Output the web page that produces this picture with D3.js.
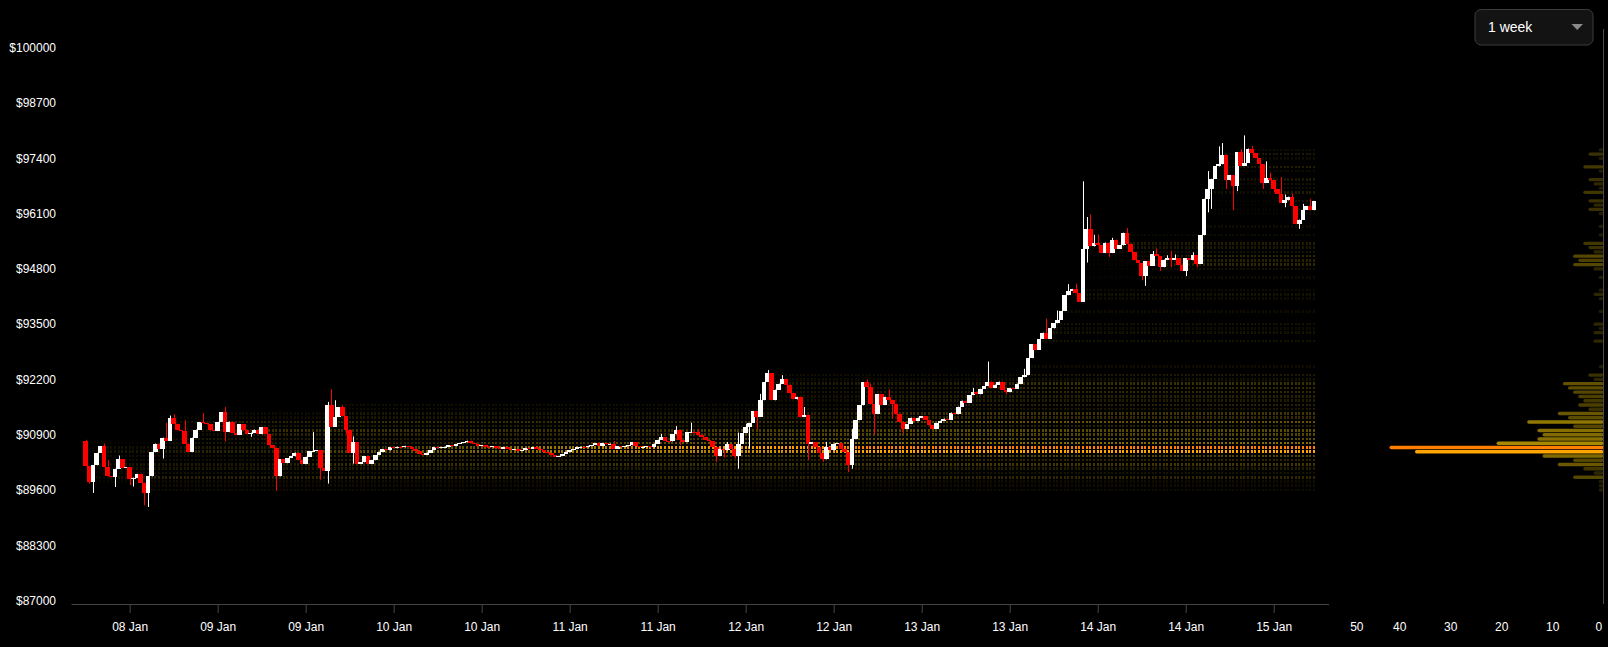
<!DOCTYPE html>
<html><head><meta charset="utf-8">
<script src="https://cdn.jsdelivr.net/npm/d3@7"></script>
<style>html,body{margin:0;padding:0;background:#000;overflow:hidden}svg{display:block}</style>
</head><body><svg id="chart" width="1608" height="647"></svg>
<script>
// ---------------- DATA ----------------
const startTime = Date.UTC(2025, 0, 8, 6, 0);   // first 30-min candle
const stepMinutes = 30;
const firstOpen = 90743;
const closes = [
90160,89790,90180,90470,90630,90140,89920,89900,90100,90320,90120,90130,
89850,89890,89980,89770,89530,89920,90490,90690,90560,90830,90750,91290,
91160,91000,90990,90690,90490,90830,91020,91200,91170,91140,91000,90990,
91200,91430,90960,91210,90950,90900,91140,91000,90920,90950,91020,90910,
91070,90920,90650,90590,89920,90320,90230,90350,90390,90480,90310,90220,
90380,90510,90520,90530,90120,90050,91610,91080,91320,91550,91330,91020,
90470,90720,90220,90250,90390,90220,90300,90420,90500,90560,90530,90600,
90580,90620,90600,90640,90610,90560,90520,90450,90420,90480,90540,90600,
90580,90600,90620,90650,90630,90680,90700,90720,90760,90700,90680,90640,
90660,90620,90600,90630,90580,90560,90600,90560,90540,90560,90520,90540,
90580,90560,90600,90570,90540,90500,90460,90420,90380,90400,90450,90500,
90540,90560,90600,90620,90600,90640,90660,90700,90630,90700,90670,90690,
90570,90630,90610,90640,90650,90730,90630,90610,90620,90630,90600,90690,
90780,90850,90750,90740,90910,91020,90770,90730,90960,90970,90960,90900,
90850,90780,90740,90610,90410,90570,90530,90670,90570,90410,90690,90940,
91080,91180,91450,91320,91710,92140,92350,91710,91960,92100,92200,92080,
91870,91730,91790,91320,91370,90690,90730,90610,90470,90320,90610,90530,
90690,90700,90570,90490,90180,90800,91240,91590,92140,92020,91630,91390,
91860,91610,91790,91720,91630,91390,91200,91035,91150,91300,91220,91300,
91340,91250,91120,91040,91180,91230,91280,91250,91420,91380,91560,91700,
91650,91830,91900,91850,91980,92040,92150,92000,92080,92150,91950,91900,
92000,91980,92100,92250,92300,92700,93030,92900,93150,93300,93150,93400,
93520,93600,93810,94180,94280,94330,94230,94020,95270,95730,95330,95410,
95350,95170,95420,95170,95490,95270,95350,95650,95390,95200,95000,94940,
94630,94980,94870,95160,95100,94840,95020,95050,95020,95050,94900,94750,
95050,95020,95130,94920,95590,96450,96690,96920,97210,97260,97490,96880,
97010,96750,97550,97220,97300,97630,97530,97410,97270,96820,96940,96880,
96670,96570,96350,96410,96500,96270,95850,95960,96190,96270,96180,96390
];
// [candle index, wick high]
const wickHighs = [[0,90780],[5,90690],[6,90300],[9,90410],[22,91180],[23,91350],[24,91380],[27,91240],
[32,91410],[38,91550],[62,90960],[66,91670],[67,91970],[68,91710],[70,91590],[73,90860],[144,90750],
[157,90920],[161,91100],[165,91180],[167,91030],[175,90730],[178,90950],[180,91160],[184,91860],
[186,92420],[190,92300],[196,91550],[202,90730],[209,91040],[213,92200],[214,92100],[219,91960],
[242,92000],[246,92620],[256,92450],[262,93630],[265,93820],[268,94440],[270,94450],[272,96860],
[273,96020],[274,96080],[275,95600],[276,95610],[280,95530],[284,95760],[291,95220],[292,95280],
[295,95120],[296,95230],[297,95140],[302,95190],[306,97100],[309,97680],[310,97760],[315,97610],
[316,97940],[318,97690],[322,97330],[323,97060],[326,96960],[327,96550],[329,96570],[332,96330],[334,96450]];
// [candle index, wick low]
const wickLows = [[1,89750],[2,89530],[8,89670],[12,89710],[13,89680],[16,89240],[17,89200],[21,90340],
[38,90740],[45,90850],[52,89580],[64,89840],[66,89750],[71,90920],[73,90220],[162,90650],[172,90260],
[174,90360],[177,90340],[178,90100],[181,90570],[183,91020],[197,90300],[201,90260],[208,90020],
[209,90100],[215,90920],[220,91280],[223,90940],[251,91850],[273,94950],[279,95080],[288,94530],
[289,94400],[293,94750],[296,94840],[300,94630],[303,94840],[306,96130],[307,96210],[311,96680],
[313,96180],[314,96630],[321,96680],[324,96600],[327,96250],[331,95740]];

const yTickValues = [87000,88300,89600,90900,92200,93500,94800,96100,97400,98700,100000];
// volume profile: price levels every 100 from 89600
const profileStart = 89600;
const profileStep = 100;
const profileVolume = [
1,1,1,6,2,4,9,6,12,37,      // 89600 .. 90500
42,21,13,12,13,6,15,7,9,3,  // 90600 .. 91500
5,4,5,6,7,8,2,3,0,1,        // 91600 .. 92500
0,0,0,0,0,2,0,2,1,2,        // 92600 .. 93500
0,0,1,0,0,1,2,1,0,0,        // 93600 .. 94500
1,0,2,6,5,6,2,3,4,0,        // 94600 .. 95500
1,0,1,0,0,1,3,2,3,0,        // 95600 .. 96500
4,1,2,3,0,1,4,0,1,3,        // 96600 .. 97500
1                           // 97600
];
const profileTicks = [50,40,30,20,10,0];
const rangeLabel = "1 week";

// ---------------- CHART ----------------
const svg = d3.select("#chart");
const FONT = "'Liberation Sans', Arial, sans-serif";
svg.append("rect").attr("width",1608).attr("height",647).attr("fill","#000");

const x = d3.scaleUtc()
  .domain([new Date(Date.UTC(2025,0,8,4,0)), new Date(Date.UTC(2025,0,15,7,30))])
  .range([71, 1328.7]);
const y = d3.scaleLinear().domain([87000,100000]).range([600.5, 47.8]);
const hx = d3.scaleLinear().domain([0,50]).range([1603.7, 1348.7]);
const color = d3.scaleLinear()
  .domain([0, 1, 3, 6, 9, 13, 21, 37, 42])
  .range(["#000000","#221c00","#3a3000","#554600","#6a5700","#887000","#a88a00","#ffa500","#ff8000"])
  .clamp(true);
const cellOpacity = d3.scaleLinear().domain([0, 8, 37]).range([0.45, 0.6, 1]).clamp(true);

const candles = closes.map((c,i) => {
  const o = i ? closes[i-1] : firstOpen;
  return {t: new Date(startTime + i*stepMinutes*60000), o, c,
          h: Math.max(o,c), l: Math.min(o,c)};
});
wickHighs.forEach(([i,v]) => candles[i].h = Math.max(candles[i].h, v));
wickLows.forEach(([i,v]) => candles[i].l = Math.min(candles[i].l, v));

// ---- heatmap: cumulative traded profile over time ----
const nBins = profileVolume.length;
const binOf = p => Math.round((p - profileStart)/profileStep);
const totals = new Array(nBins).fill(0);
candles.forEach(d => {
  const a = Math.max(0, binOf(Math.min(d.o,d.c))), b = Math.min(nBins-1, binOf(Math.max(d.o,d.c)));
  for (let j=a;j<=b;j++) totals[j]++;
});
const cum = new Array(nBins).fill(0);
const cells = [];
candles.forEach(d => {
  const a = Math.max(0, binOf(Math.min(d.o,d.c))), b = Math.min(nBins-1, binOf(Math.max(d.o,d.c)));
  for (let j=a;j<=b;j++) cum[j]++;
  for (let j=0;j<nBins;j++) {
    if (cum[j] > 0 && totals[j] > 0 && profileVolume[j] > 0)
      cells.push({t: d.t, p: profileStart + j*profileStep, v: profileVolume[j]*cum[j]/totals[j]});
  }
});
svg.append("g").attr("shape-rendering","crispEdges")
  .selectAll("rect").data(cells).join("rect")
  .attr("x", d => x(d.t) - 1)
  .attr("width", 2)
  .attr("y", d => y(d.p) - 1.3)
  .attr("height", 2.6)
  .attr("fill", d => color(d.v))
  .attr("fill-opacity", d => cellOpacity(d.v));

// ---- candles ----
const cg = svg.append("g");
cg.selectAll("line").data(candles).join("line")
  .attr("x1", d => Math.round(x(d.t)) + 0.5).attr("x2", d => Math.round(x(d.t)) + 0.5)
  .attr("y1", d => y(d.h)).attr("y2", d => y(d.l))
  .attr("stroke", d => d.c >= d.o ? "#ffffff" : "#ff0000").attr("stroke-width", 1);
cg.selectAll("rect").data(candles).join("rect")
  .attr("shape-rendering","crispEdges")
  .attr("x", d => x(d.t) - 2.2).attr("width", 4.4)
  .attr("y", d => y(Math.max(d.o,d.c)))
  .attr("height", d => Math.max(1, y(Math.min(d.o,d.c)) - y(Math.max(d.o,d.c))))
  .attr("fill", d => d.c >= d.o ? "#ffffff" : "#ff0000");

// ---- axes ----
const xAxis = svg.append("g").attr("transform","translate(0,604)")
  .call(d3.axisBottom(x).ticks(d3.utcHour.every(12)).tickFormat(d3.utcFormat("%d %b"))
        .tickSize(9).tickPadding(9.5).tickSizeOuter(0));
xAxis.select(".domain").attr("stroke","#444");
xAxis.selectAll(".tick line").attr("stroke","#444");
xAxis.selectAll("text").attr("fill","#fff").style("font-family",FONT).style("font-size","12px");

const yAxis = svg.append("g").attr("transform","translate(62,0)")
  .call(d3.axisLeft(y).tickValues(yTickValues).tickFormat(d => "$" + d).tickSize(0).tickPadding(6));
yAxis.select(".domain").remove();
yAxis.selectAll("text").attr("fill","#fff").style("font-family",FONT).style("font-size","12px");

// ---- volume profile ----
const prof = profileVolume.map((v,j) => ({p: profileStart + j*profileStep, v})).filter(d => d.v > 0);
svg.append("g").selectAll("rect").data(prof).join("rect")
  .attr("x", d => hx(d.v)).attr("width", d => hx(0) - hx(d.v))
  .attr("y", d => y(d.p) - 1.7).attr("height", 3.4).attr("rx", 1.7)
  .attr("fill", d => color(d.v));
svg.append("line").attr("x1",1603.5).attr("x2",1603.5).attr("y1",29).attr("y2",604)
  .attr("stroke","#4a4a4a").attr("stroke-width",1);
svg.append("g").selectAll("text").data(profileTicks).join("text")
  .attr("x", (d,i) => hx(d) + (i === 0 ? 1.5 : i === profileTicks.length-1 ? -1.5 : 0))
  .attr("y", 631)
  .attr("text-anchor", (d,i) => i === 0 ? "start" : i === profileTicks.length-1 ? "end" : "middle")
  .attr("fill","#fff").style("font-family",FONT).style("font-size","12px")
  .text(d => d);

// ---- range selector ----
const sel = svg.append("g");
sel.append("rect").attr("x",1475).attr("y",9.5).attr("width",118).attr("height",35.5).attr("rx",6)
  .attr("fill","#131313").attr("stroke","#3c3c3c");
sel.append("text").attr("x",1488).attr("y",32).attr("fill","#fff")
  .style("font-family",FONT).style("font-size","14px").text(rangeLabel);
sel.append("path").attr("d","M1571.5,24 L1583,24 L1577.25,30 Z").attr("fill","#8a8a8a");
</script></body></html>
